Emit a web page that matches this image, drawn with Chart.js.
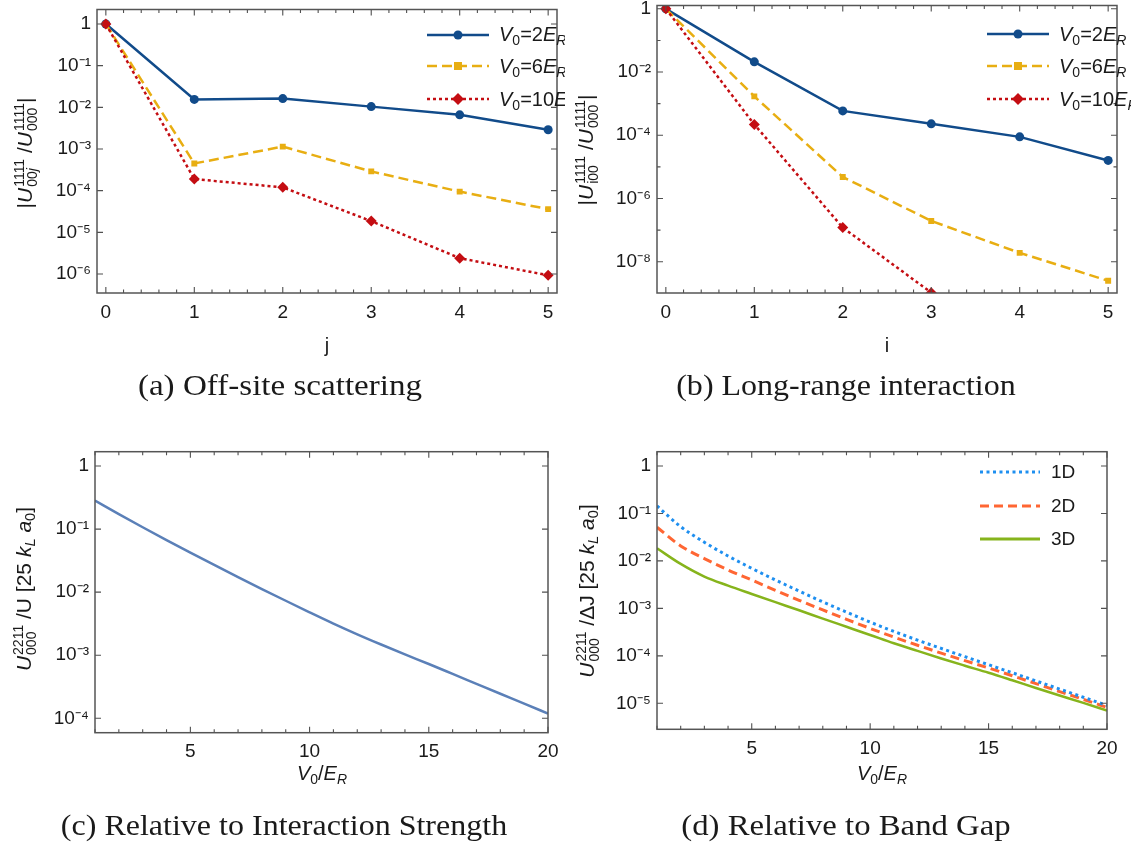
<!DOCTYPE html>
<html><head><meta charset="utf-8">
<script src="https://cdn.jsdelivr.net/npm/chart.js@4.4.1/dist/chart.umd.min.js"></script>
<style>
body{margin:0;background:#fff;width:1131px;height:846px;position:relative;overflow:hidden;font-family:"Liberation Sans",Arial,sans-serif;color:#1a1a1a;}
.panel{position:absolute;overflow:hidden;}
.panel canvas{position:absolute;left:0;top:0;}
.abs{position:absolute;white-space:nowrap;}
.ytitle{transform:translate(-50%,-50%) rotate(-90deg);font-size:21px;}
.xtitle{transform:translate(-50%,-50%);font-size:20px;}
.cap{transform:translate(-50%,-50%);font-family:"Liberation Serif","DejaVu Serif",serif;font-size:29px;}
.ss{display:inline-flex;flex-direction:column;vertical-align:8px;font-size:14px;line-height:13px;font-style:normal;margin-left:1px;}
.sb{font-size:0.7em;position:relative;top:0.3em;}
.leg{position:absolute;display:flex;align-items:center;height:24px;font-size:20px;white-space:nowrap;}
.leg svg{flex:none;}
</style>
</head><body>

<div class="panel" id="pA" style="left:0;top:0;width:565px;height:420px;"><canvas id="cA" width="565" height="420"></canvas>
  <div class="leg" style="left:427px;top:22.5px;"><svg width="62" height="24"><line x1="0" y1="12" x2="62" y2="12" stroke="#114b8a" stroke-width="2.5"/><circle cx="31" cy="12" r="4.5" fill="#114b8a"/></svg><span style="margin-left:10px"><i>V</i><span class="sb">0</span>=2<i>E</i><span class="sb"><i>R</i></span></span></div>
  <div class="leg" style="left:427px;top:54px;"><svg width="62" height="24"><line x1="0" y1="12" x2="62" y2="12" stroke="#e8ae12" stroke-width="2.5" stroke-dasharray="10 5"/><rect x="27" y="8" width="8" height="8" fill="#e8ae12"/></svg><span style="margin-left:10px"><i>V</i><span class="sb">0</span>=6<i>E</i><span class="sb"><i>R</i></span></span></div>
  <div class="leg" style="left:427px;top:87px;"><svg width="62" height="24"><line x1="0" y1="12" x2="62" y2="12" stroke="#c40d12" stroke-width="2.5" stroke-dasharray="3 3"/><polygon points="31,6 37,12 31,18 25,12" fill="#c40d12"/></svg><span style="margin-left:10px"><i>V</i><span class="sb">0</span>=10<i>E</i><span class="sb"><i>R</i></span></span></div>
</div>

<div class="panel" id="pB" style="left:565px;top:0;width:566px;height:420px;"><canvas id="cB" width="566" height="420"></canvas>
  <div class="leg" style="left:422px;top:22px;"><svg width="62" height="24"><line x1="0" y1="12" x2="62" y2="12" stroke="#114b8a" stroke-width="2.5"/><circle cx="31" cy="12" r="4.5" fill="#114b8a"/></svg><span style="margin-left:10px"><i>V</i><span class="sb">0</span>=2<i>E</i><span class="sb"><i>R</i></span></span></div>
  <div class="leg" style="left:422px;top:54px;"><svg width="62" height="24"><line x1="0" y1="12" x2="62" y2="12" stroke="#e8ae12" stroke-width="2.5" stroke-dasharray="10 5"/><rect x="27" y="8" width="8" height="8" fill="#e8ae12"/></svg><span style="margin-left:10px"><i>V</i><span class="sb">0</span>=6<i>E</i><span class="sb"><i>R</i></span></span></div>
  <div class="leg" style="left:422px;top:87px;"><svg width="62" height="24"><line x1="0" y1="12" x2="62" y2="12" stroke="#c40d12" stroke-width="2.5" stroke-dasharray="3 3"/><polygon points="31,6 37,12 31,18 25,12" fill="#c40d12"/></svg><span style="margin-left:10px"><i>V</i><span class="sb">0</span>=10<i>E</i><span class="sb"><i>R</i></span></span></div>
</div>

<div class="panel" id="pC" style="left:0;top:430px;width:565px;height:416px;"><canvas id="cC" width="565" height="416"></canvas></div>

<div class="panel" id="pD" style="left:565px;top:430px;width:566px;height:416px;"><canvas id="cD" width="566" height="416"></canvas>
  <div class="leg" style="left:415px;top:30px;font-size:19px;"><svg width="60" height="24"><line x1="0" y1="12" x2="60" y2="12" stroke="#1e8ff0" stroke-width="3" stroke-dasharray="3 3.5"/></svg><span style="margin-left:11px">1D</span></div>
  <div class="leg" style="left:415px;top:63.5px;font-size:19px;"><svg width="60" height="24"><line x1="0" y1="12" x2="60" y2="12" stroke="#ff6633" stroke-width="3" stroke-dasharray="9 5"/></svg><span style="margin-left:11px">2D</span></div>
  <div class="leg" style="left:415px;top:97px;font-size:19px;"><svg width="60" height="24"><line x1="0" y1="12" x2="60" y2="12" stroke="#86b41c" stroke-width="3"/></svg><span style="margin-left:11px">3D</span></div>
</div>

<!-- axis titles -->
<div class="abs ytitle" style="left:26px;top:153px;">|<i>U</i><span class="ss"><span>1111</span><span>00<i>j</i></span></span> /<i>U</i><span class="ss"><span>1111</span><span>000</span></span>|</div>
<div class="abs xtitle" style="left:327px;top:345px;">j</div>
<div class="abs ytitle" style="left:587px;top:150px;">|<i>U</i><span class="ss"><span>1111</span><span>i00</span></span> /<i>U</i><span class="ss"><span>1111</span><span>000</span></span>|</div>
<div class="abs xtitle" style="left:887px;top:345px;">i</div>
<div class="abs ytitle" style="left:25px;top:589px;"><i>U</i><span class="ss"><span>2211</span><span>000</span></span> /U [25 <i>k</i><span class="sb"><i>L</i></span> <i>a</i><span class="sb">0</span>]</div>
<div class="abs xtitle" style="left:322px;top:773px;"><i>V</i><span class="sb">0</span>/<i>E</i><span class="sb"><i>R</i></span></div>
<div class="abs ytitle" style="left:588px;top:591px;"><i>U</i><span class="ss"><span>2211</span><span>000</span></span> /ΔJ [25 <i>k</i><span class="sb"><i>L</i></span> <i>a</i><span class="sb">0</span>]</div>
<div class="abs xtitle" style="left:882px;top:773px;"><i>V</i><span class="sb">0</span>/<i>E</i><span class="sb"><i>R</i></span></div>

<!-- captions -->
<div class="abs cap" data-w="284" style="left:280px;top:385px;">(a) Off-site scattering</div>
<div class="abs cap" data-w="340" style="left:846px;top:385px;">(b) Long-range interaction</div>
<div class="abs cap" data-w="446" style="left:284px;top:825px;">(c) Relative to Interaction Strength</div>
<div class="abs cap" data-w="330" style="left:846px;top:825px;">(d) Relative to Band Gap</div>

<script>
// ---------- data ----------
const siteIndex = [0, 1, 2, 3, 4, 5];
const offsiteV2 = [1, 0.0155, 0.0162, 0.0104, 0.0066, 0.0029];
const offsiteV6 = [1, 0.00045, 0.00114, 0.00029, 0.000095, 0.000036];
const offsiteV10 = [1, 0.00019, 0.00012, 0.0000186, 0.0000024, 0.00000093];

const longV2 = [1, 0.021, 0.00059, 0.00023, 0.000089, 0.000016];
const longV6 = [1, 0.0017, 0.0000048, 0.000000195, 0.000000019, 0.0000000025];
const longV10 = [1, 0.00022, 0.00000012, 0.00000000105];

const depth = [1, 2, 3, 4, 5, 6, 7, 8, 9, 10, 11, 12, 13, 14, 15, 16, 17, 18, 19, 20];
const relInteraction = [0.2825, 0.1726, 0.1069, 0.0670, 0.0424, 0.0270, 0.01734, 0.01122, 0.00731, 0.0048,
  0.00318, 0.00215, 0.00148, 0.00103, 0.000726, 0.000506, 0.000352, 0.000245, 0.000171, 0.000119];
const gap1D = [0.1436, 0.0527, 0.0247, 0.0127, 0.00698, 0.00396, 0.00231, 0.00137, 0.000834, 0.000513,
  0.000327, 0.000214, 0.000143, 0.000096, 0.000065, 0.000044, 0.0000296, 0.0000199, 0.0000134, 0.0000090];
const gap2D = [0.0511, 0.0207, 0.01117, 0.00644, 0.00396, 0.00240, 0.00148, 0.000927, 0.000589, 0.000378,
  0.000248, 0.000167, 0.000114, 0.000079, 0.0000556, 0.0000380, 0.0000260, 0.0000176, 0.0000121, 0.0000082];
const gap3D = [0.01845, 0.00863, 0.00467, 0.00301, 0.00201, 0.00135, 0.000912, 0.000608, 0.000409, 0.000275,
  0.000184, 0.000127, 0.000088, 0.000062, 0.000044, 0.0000305, 0.0000210, 0.0000146, 0.0000102, 0.0000070];

// ---------- tick labels ----------
const xTicksAB = [0, 1, 2, 3, 4, 5];
const xLabelsAB = ['0', '1', '2', '3', '4', '5'];
const xTicksCD = [5, 10, 15, 20];
const xLabelsCD = ['5', '10', '15', '20'];
const yTicksA = [1, 1e-1, 1e-2, 1e-3, 1e-4, 1e-5, 1e-6];
const yLabelsA = ['1', '10\u207B\u00B9', '10\u207B\u00B2', '10\u207B\u00B3', '10\u207B\u2074', '10\u207B\u2075', '10\u207B\u2076'];
const yTicksB = [1, 1e-2, 1e-4, 1e-6, 1e-8];
const yLabelsB = ['1', '10\u207B\u00B2', '10\u207B\u2074', '10\u207B\u2076', '10\u207B\u2078'];
const yMinorB = [1e-1, 1e-3, 1e-5, 1e-7];
const yTicksC = [1, 1e-1, 1e-2, 1e-3, 1e-4];
const yLabelsC = ['1', '10\u207B\u00B9', '10\u207B\u00B2', '10\u207B\u00B3', '10\u207B\u2074'];
const yTicksD = [1, 1e-1, 1e-2, 1e-3, 1e-4, 1e-5];
const yLabelsD = ['1', '10\u207B\u00B9', '10\u207B\u00B2', '10\u207B\u00B3', '10\u207B\u2074', '10\u207B\u2075'];

// ---------- styles ----------
const NAVY = '#114b8a', GOLD = '#e8ae12', RED = '#c40d12';
const minorAB = []; for (let k = 0; k <= 25; k++) { if (k % 5) minorAB.push(k / 5); }
const minorCD = []; for (let k = 1; k <= 20; k++) { if (k % 5) minorCD.push(k); }

function pairs(xs, ys) { return ys.map((y, k) => ({ x: xs[k], y })); }

function frameTicks(spec) {
  return {
    id: 'frameTicks',
    afterDatasetsDraw(chart) {
      const { ctx, chartArea: a } = chart;
      const xs = chart.scales.x, ys = chart.scales.y;
      ctx.save();
      ctx.strokeStyle = '#505050';
      ctx.lineWidth = 1.1;
      ctx.beginPath();
      const vx = (v, len) => { const p = xs.getPixelForValue(v); ctx.moveTo(p, a.bottom); ctx.lineTo(p, a.bottom - len); ctx.moveTo(p, a.top); ctx.lineTo(p, a.top + len); };
      const vy = (v, len) => { const p = ys.getPixelForValue(v); ctx.moveTo(a.left, p); ctx.lineTo(a.left + len, p); ctx.moveTo(a.right, p); ctx.lineTo(a.right - len, p); };
      spec.xMajor.forEach(v => vx(v, 6));
      spec.xMinor.forEach(v => vx(v, 3.5));
      spec.yMajor.forEach(v => vy(v, 6));
      (spec.yMinor || []).forEach(v => vy(v, 3.5));
      ctx.stroke();
      ctx.lineWidth = 1.5;
      ctx.strokeStyle = '#555';
      ctx.strokeRect(a.left, a.top, a.right - a.left, a.bottom - a.top);
      ctx.restore();
    }
  };
}

function makeChart(id, spec) {
  const tickFont = { family: '"Liberation Sans", Arial, sans-serif', size: 19 };
  new Chart(document.getElementById(id), {
    type: 'line',
    data: { datasets: spec.datasets },
    options: {
      responsive: false, animation: false, devicePixelRatio: 1,
      layout: { padding: spec.pad },
      plugins: { legend: { display: false }, tooltip: { enabled: false } },
      elements: { line: { tension: 0, borderCapStyle: 'butt' }, point: { borderWidth: 0 } },
      scales: {
        x: {
          type: 'linear', min: spec.xMin, max: spec.xMax,
          grid: { display: false, drawTicks: false }, border: { display: false },
          afterBuildTicks: ax => { ax.ticks = spec.xTicks.map(v => ({ value: v })); },
          afterFit: ax => { ax.height = 40; ax.paddingLeft = 0; ax.paddingRight = 0; },
          ticks: { autoSkip: false, maxRotation: 0, padding: 8, color: '#1a1a1a', font: tickFont,
            callback: (v, i) => spec.xLabels[i] }
        },
        y: {
          type: 'logarithmic', min: spec.yMin, max: spec.yMax,
          grid: { display: false, drawTicks: false }, border: { display: false },
          afterBuildTicks: ax => { ax.ticks = spec.yTicks.map(v => ({ value: v })); },
          afterFit: ax => { ax.width = 60; ax.paddingTop = 0; ax.paddingBottom = 0; },
          ticks: { autoSkip: false, padding: 6, color: '#1a1a1a', font: tickFont,
            callback: (v, i) => spec.yLabels[i] }
        }
      }
    },
    plugins: [frameTicks({ xMajor: spec.xTicks, xMinor: spec.xMinor, yMajor: spec.yTicks, yMinor: spec.yMinor })]
  });
}

function markerSeries(label, xs, ys, color, dash, style, r, order) {
  return { label, data: pairs(xs, ys), borderColor: color, backgroundColor: color, borderWidth: 2.5,
    borderDash: dash, pointStyle: style, pointRadius: r, pointBackgroundColor: color, pointBorderWidth: 0, order };
}
function curve(label, ys, color, dash, width) {
  return { label, data: pairs(depth, ys), borderColor: color, borderWidth: width, borderDash: dash,
    pointRadius: 0, cubicInterpolationMode: 'monotone' };
}

// (a)
makeChart('cA', {
  pad: { left: 37, top: 9.5, right: 8, bottom: 87 },
  xMin: -0.1, xMax: 5.1, xTicks: xTicksAB, xLabels: xLabelsAB, xMinor: minorAB,
  yMin: Math.pow(10, -6.456), yMax: Math.pow(10, 0.348), yTicks: yTicksA, yLabels: yLabelsA,
  datasets: [
    markerSeries('V0=2ER', siteIndex, offsiteV2, NAVY, [], 'circle', 4.5, 2),
    markerSeries('V0=6ER', siteIndex, offsiteV6, GOLD, [10, 5], 'rect', 4.2, 1),
    markerSeries('V0=10ER', siteIndex, offsiteV10, RED, [3, 3], 'rectRot', 5.5, 0)
  ]
});
// (b)
makeChart('cB', {
  pad: { left: 32, top: 5, right: 14, bottom: 87 },
  xMin: -0.1, xMax: 5.1, xTicks: xTicksAB, xLabels: xLabelsAB, xMinor: minorAB,
  yMin: Math.pow(10, -8.99), yMax: Math.pow(10, 0.105), yTicks: yTicksB, yLabels: yLabelsB, yMinor: yMinorB,
  datasets: [
    markerSeries('V0=2ER', siteIndex, longV2, NAVY, [], 'circle', 4.5, 2),
    markerSeries('V0=6ER', siteIndex, longV6, GOLD, [10, 5], 'rect', 4.2, 1),
    markerSeries('V0=10ER', siteIndex, longV10, RED, [3, 3], 'rectRot', 5.5, 0)
  ]
});
// (c)
makeChart('cC', {
  pad: { left: 35, top: 21.7, right: 17, bottom: 73.3 },
  xMin: 1, xMax: 20, xTicks: xTicksCD, xLabels: xLabelsCD, xMinor: minorCD,
  yMin: Math.pow(10, -4.228), yMax: Math.pow(10, 0.227), yTicks: yTicksC, yLabels: yLabelsC,
  datasets: [ curve('U/U', relInteraction, '#5b80b8', [], 2.5) ]
});
// (d)
makeChart('cD', {
  pad: { left: 32, top: 21.7, right: 24, bottom: 76.7 },
  xMin: 1, xMax: 20, xTicks: xTicksCD, xLabels: xLabelsCD, xMinor: minorCD,
  yMin: Math.pow(10, -5.548), yMax: Math.pow(10, 0.301), yTicks: yTicksD, yLabels: yLabelsD,
  datasets: [
    curve('1D', gap1D, '#1e8ff0', [3, 3.5], 3),
    curve('2D', gap2D, '#ff6633', [9, 5], 3),
    curve('3D', gap3D, '#86b41c', [], 2.5)
  ]
});

// captions: stretch the serif text to the caption widths of the original
document.querySelectorAll('.cap').forEach(el => {
  const w = el.offsetWidth, t = +el.dataset.w;
  el.style.transform = 'translate(-50%,-50%) scaleX(' + (t / w).toFixed(3) + ')';
});
</script>
</body></html>
